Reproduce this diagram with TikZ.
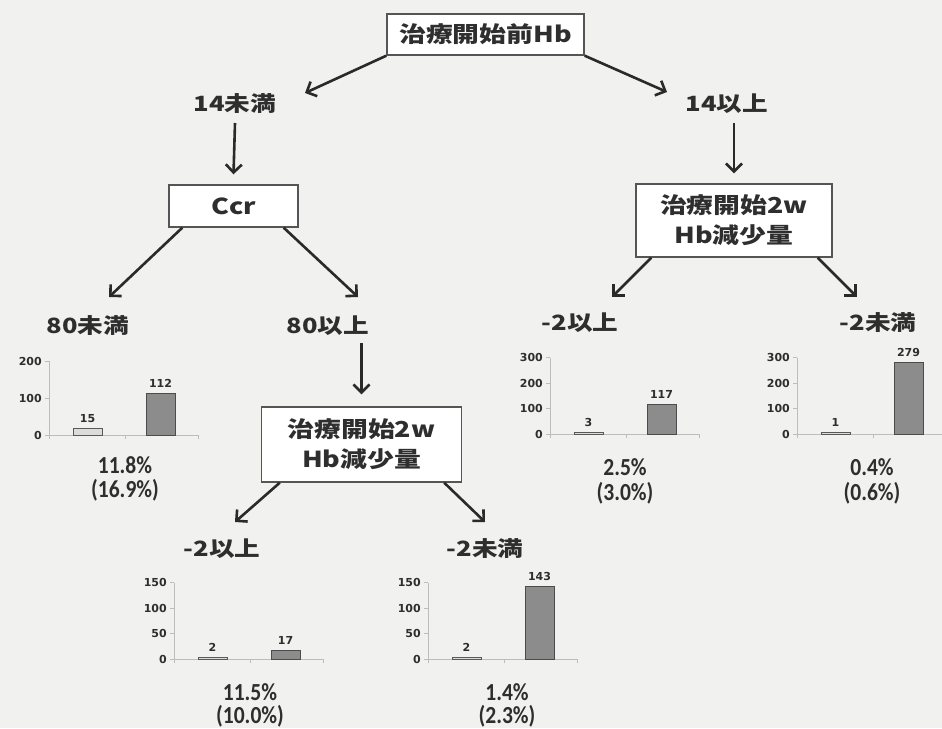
\documentclass[tikz,border=0pt]{standalone}
\usepackage{fontspec}
\usetikzlibrary{arrows.meta}
\newfontfamily\jpf{Noto Sans CJK JP}[FakeStretch=1.22]
\newfontfamily\pctf{Carlito}[FakeStretch=0.88]
\newfontfamily\tkf{DejaVu Sans}
\definecolor{bgc}{HTML}{F1F1EF}
\definecolor{txt}{HTML}{2E2E2E}
\definecolor{arrc}{HTML}{2A2A2A}
\definecolor{boxc}{HTML}{555555}
\definecolor{axc}{HTML}{BDBDBD}
\definecolor{barA}{HTML}{DCDCDA}
\definecolor{barB}{HTML}{8C8C8C}
\tikzset{
  arr/.style={draw=arrc, line width=2.6pt, -{Straight Barb[length=8pt,width=16pt,line width=2.6pt]}},
  boxn/.style={draw=boxc, line width=1.4pt, fill=white, inner sep=0pt, align=center, text=txt,
               font=\jpf\bfseries\fontsize{22}{30}\selectfont},
  lab/.style={inner sep=0pt, text=txt, font=\jpf\bfseries\fontsize{21}{25}\selectfont},
  pct/.style={inner sep=0pt, text=txt, font=\pctf\bfseries\fontsize{24.5}{30}\selectfont},
  tick/.style={inner sep=0pt, text=txt, font=\tkf\bfseries\fontsize{11}{12}\selectfont},
  axis/.style={draw=axc, line width=1pt},
  barone/.style={fill=barA, draw=black!65, line width=0.9pt},
  bartwo/.style={fill=barB, draw=black!70, line width=0.9pt}
}
% #1 x0, #2 base y, #3 px per unit, #4 tick step, #5 max, #6 v1, #7 v2
\newcommand{\mchart}[7]{%
  \draw[axis] (#1,#2-#5*#3) -- (#1,#2) -- (#1+149,#2);
  \foreach \tv in {0,#4,...,#5} {
    \draw[axis] (#1-4,#2-\tv*#3) -- (#1,#2-\tv*#3);
    \node[tick, anchor=east] at (#1-7,#2-\tv*#3) {\tv};
  }
  \foreach \sx in {0,76,149} { \draw[axis] (#1+\sx,#2) -- (#1+\sx,#2+4); }
  \draw[barone] (#1+24,#2) rectangle (#1+53,#2-#6*#3-1);
  \draw[bartwo] (#1+97,#2) rectangle (#1+126,#2-#7*#3);
  \node[tick] at (#1+38.5,#2-#6*#3-11) {#6};
  \node[tick] at (#1+111.5,#2-#7*#3-10) {#7};
}
\begin{document}
\begin{tikzpicture}[x=1pt,y=-1pt]
\fill[bgc] (0,0) rectangle (942,728);
\useasboundingbox (0,0) rectangle (942,728);

% boxes
\node[boxn, minimum width=197pt, minimum height=41pt] (top) at (485.5,34.5) {治療開始前Hb};
\node[boxn, minimum width=129pt, minimum height=42pt] (ccr) at (233.5,206) {Ccr};
\node[boxn, minimum width=196pt, minimum height=73pt] (rbox) at (734,220.5) {治療開始2w\\Hb減少量};
\node[boxn, minimum width=200pt, minimum height=75pt] (mbox) at (361.5,444.5) {治療開始2w\\Hb減少量};

% labels
\node[lab] (l14u) at (235,104) {14未満};
\node[lab] (l14o) at (727,104) {14以上};
\node[lab] (l80u) at (88,326) {80未満};
\node[lab] (l80o) at (328,326) {80以上};
\node[lab] (lr1) at (580,323) {-2以上};
\node[lab] (lr2) at (878,323) {-2未満};
\node[lab] (lb1) at (222,549) {-2以上};
\node[lab] (lb2) at (485,549) {-2未満};

% arrow tips
\coordinate (t1) at (305,93);
\coordinate (t2) at (667,92);
\coordinate (t3) at (109,297);
\coordinate (t4) at (358,297);
\coordinate (t5) at (612,297);
\coordinate (t6) at (857,297);
\coordinate (t7) at (235,522);
\coordinate (t8) at (485,522);

% connectors
\draw[arr] (top.south west) -- (t1);
\draw[arr] (top.south east) -- (t2);
\draw[arr] (l14u.center) ++(0,19) -- ([yshift=10pt]ccr.north);
\draw[arr] (l14o.center -| rbox.north) ++(0,19) -- ([yshift=10pt]rbox.north);
\draw[arr] ([xshift=14pt]ccr.south west) -- (t3);
\draw[arr] ([xshift=-15pt]ccr.south east) -- (t4);
\draw[arr] (l80o.center -| mbox.north) ++(0,17) -- ([yshift=12pt]mbox.north);
\draw[arr] ([xshift=16pt]rbox.south west) -- (t5);
\draw[arr] ([xshift=-15pt]rbox.south east) -- (t6);
\draw[arr] ([xshift=19pt]mbox.south west) -- (t7);
\draw[arr] ([xshift=-18pt]mbox.south east) -- (t8);

% charts
\mchart{49}{435}{0.37}{100}{200}{15}{112}
\mchart{550}{434}{0.255}{100}{300}{3}{117}
\mchart{797}{434}{0.255}{100}{300}{1}{279}
\mchart{174}{659}{0.51}{50}{150}{2}{17}
\mchart{428}{659}{0.51}{50}{150}{2}{143}

% percentages
\node[pct] (p1a) at (125,465) {11.8\%};
\node[pct] (p1b) at (125,490) {(16.9\%)};
\node[pct] (p2a) at (625,467) {2.5\%};
\node[pct] (p2b) at (625,493) {(3.0\%)};
\node[pct] (p3a) at (872,467) {0.4\%};
\node[pct] (p3b) at (872,493) {(0.6\%)};
\node[pct] (p4a) at (250,692) {11.5\%};
\node[pct] (p4b) at (250,716) {(10.0\%)};
\node[pct] (p5a) at (507,692) {1.4\%};
\node[pct] (p5b) at (507,716) {(2.3\%)};
\end{tikzpicture}
\end{document}
